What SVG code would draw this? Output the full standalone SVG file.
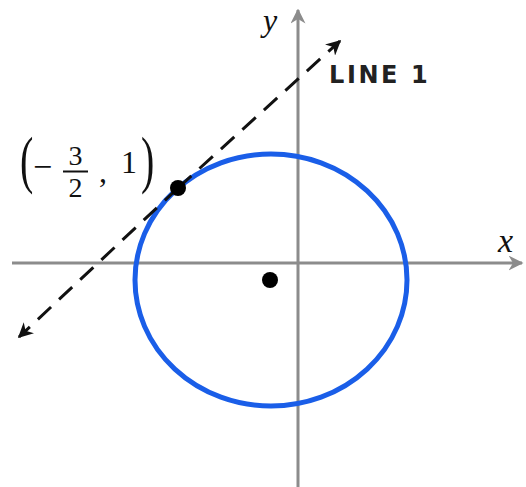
<svg xmlns="http://www.w3.org/2000/svg" width="526" height="487" viewBox="0 0 526 487">
<style>
.axis{stroke:#8c8c8c;stroke-width:3;fill:none}
.serif{font-family:"Liberation Serif","DejaVu Serif",serif;fill:#111}
</style>
<defs>
<marker id="ah" viewBox="0 0 10 10" refX="9" refY="5" markerWidth="5" markerHeight="5" orient="auto" markerUnits="strokeWidth">
<path d="M0,0 L10,5 L0,10 L3,5 Z" fill="#8c8c8c"/>
</marker>
<marker id="bh" viewBox="0 0 10 10" refX="9" refY="5" markerWidth="5" markerHeight="5" orient="auto" markerUnits="strokeWidth">
<path d="M0,0 L10,5 L0,10 L3,5 Z" fill="#111"/>
</marker>
</defs>
<rect width="526" height="487" fill="#fff"/>
<g id="axes">
<line class="axis" x1="12" y1="263" x2="522" y2="263" marker-end="url(#ah)"/>
<line class="axis" x1="298" y1="487" x2="298" y2="10" marker-end="url(#ah)"/>
<text class="serif" x="263" y="31" font-size="32" font-style="italic">y</text>
<text class="serif" x="498" y="252" font-size="34" font-style="italic">x</text>
</g>
<g id="circle">
<ellipse cx="271" cy="280" rx="136" ry="126" fill="none" stroke="#1a5ee8" stroke-width="5"/>
<circle cx="270" cy="280" r="8" fill="#000"/>
</g>
<g id="connectors">
<line x1="178" y1="188" x2="340" y2="41" stroke="#111" stroke-width="3" stroke-dasharray="18 11" marker-end="url(#bh)"/>
<line x1="178" y1="188" x2="19" y2="337" stroke="#111" stroke-width="3" stroke-dasharray="18 11" marker-end="url(#bh)"/>
</g>
<g id="point">
<circle cx="178" cy="188" r="8" fill="#000"/>
<text class="serif" font-size="40" transform="translate(20,181) scale(1,1.58)">(</text>
<text class="serif" x="33" y="178" font-size="34">−</text>
<text class="serif" x="75.5" y="165" font-size="28" text-anchor="middle">3</text>
<line x1="63" y1="171.5" x2="88" y2="171.5" stroke="#111" stroke-width="2"/>
<text class="serif" x="75.5" y="197" font-size="28" text-anchor="middle">2</text>
<text class="serif" x="99" y="182" font-size="32">,</text>
<text class="serif" x="121" y="173" font-size="32">1</text>
<text class="serif" font-size="40" transform="translate(141,181) scale(1,1.58)">)</text>
</g>
<g id="label">
<text x="329" y="83" font-family="'DejaVu Sans','Liberation Sans',sans-serif" font-weight="bold" font-size="24" letter-spacing="2.6" fill="#222">LINE 1</text>
</g>
</svg>
